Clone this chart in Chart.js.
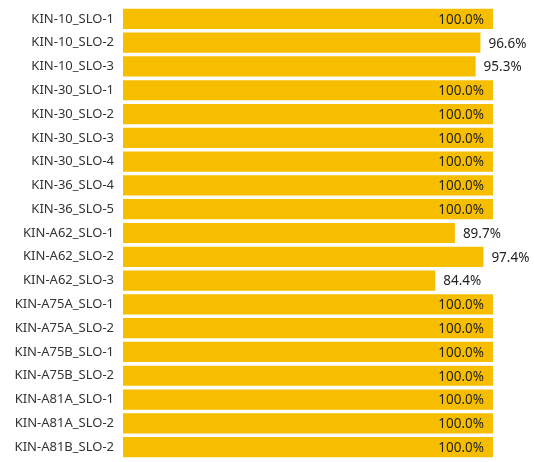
<!DOCTYPE html>
<html>
<head>
<meta charset="utf-8">
<script src="https://cdn.jsdelivr.net/npm/chart.js@4"></script>
<style>
  html, body { margin: 0; padding: 0; background: #fff; }
  #wrap { width: 534px; height: 462px; }
</style>
</head>
<body>
<div id="wrap"><canvas id="chart"></canvas></div>
<script>
const categories = [
  'KIN-10_SLO-1', 'KIN-10_SLO-2', 'KIN-10_SLO-3',
  'KIN-30_SLO-1', 'KIN-30_SLO-2', 'KIN-30_SLO-3', 'KIN-30_SLO-4',
  'KIN-36_SLO-4', 'KIN-36_SLO-5',
  'KIN-A62_SLO-1', 'KIN-A62_SLO-2', 'KIN-A62_SLO-3',
  'KIN-A75A_SLO-1', 'KIN-A75A_SLO-2', 'KIN-A75B_SLO-1', 'KIN-A75B_SLO-2',
  'KIN-A81A_SLO-1', 'KIN-A81A_SLO-2', 'KIN-A81B_SLO-2'
];
const percents = [
  100.0, 96.6, 95.3,
  100.0, 100.0, 100.0, 100.0,
  100.0, 100.0,
  89.7, 97.4, 84.4,
  100.0, 100.0, 100.0, 100.0,
  100.0, 100.0, 100.0
];

const barColor = '#F7BE00';
const fontFamily = '"Noto Sans", "Open Sans", sans-serif';
const labelFont = '13.5px ' + fontFamily;

// draws the value labels: outside the bar if there is room, else inside the end
const valueLabels = {
  id: 'valueLabels',
  afterDatasetsDraw(chart) {
    const ctx = chart.ctx;
    const meta = chart.getDatasetMeta(0);
    ctx.save();
    ctx.font = labelFont;
    ctx.fillStyle = '#252423';
    ctx.textBaseline = 'middle';
    meta.data.forEach((bar, i) => {
      const txt = percents[i].toFixed(1) + '%';
      const w = ctx.measureText(txt).width;
      if (bar.x + 8 + w <= chart.width - 2) {
        ctx.textAlign = 'left';
        ctx.fillText(txt, bar.x + 8, bar.y + 1);
      } else {
        ctx.textAlign = 'right';
        ctx.fillText(txt, bar.x - 9, bar.y + 1);
      }
    });
    ctx.restore();
  }
};

new Chart(document.getElementById('chart'), {
  type: 'bar',
  data: {
    labels: categories,
    datasets: [{
      data: percents,
      backgroundColor: barColor,
      borderWidth: 0,
      barPercentage: 0.85,
      categoryPercentage: 1,
    }],
  },
  options: {
    indexAxis: 'y',
    responsive: true,
    maintainAspectRatio: false,
    animation: false,
    layout: { padding: { top: 7, bottom: 3, left: 0, right: 41 } },
    plugins: { legend: { display: false }, tooltip: { enabled: false } },
    scales: {
      x: { display: false, min: 0, max: 100 },
      y: {
        grid: { display: false, drawTicks: false },
        border: { display: false },
        afterFit(scale) {
          scale.width = 123;
          scale.paddingTop = 0;
          scale.paddingBottom = 0;
        },
        ticks: {
          padding: 9,
          color: '#333333',
          font: { family: fontFamily, size: 13 },
        },
      },
    },
  },
  plugins: [valueLabels],
});
</script>
</body>
</html>
